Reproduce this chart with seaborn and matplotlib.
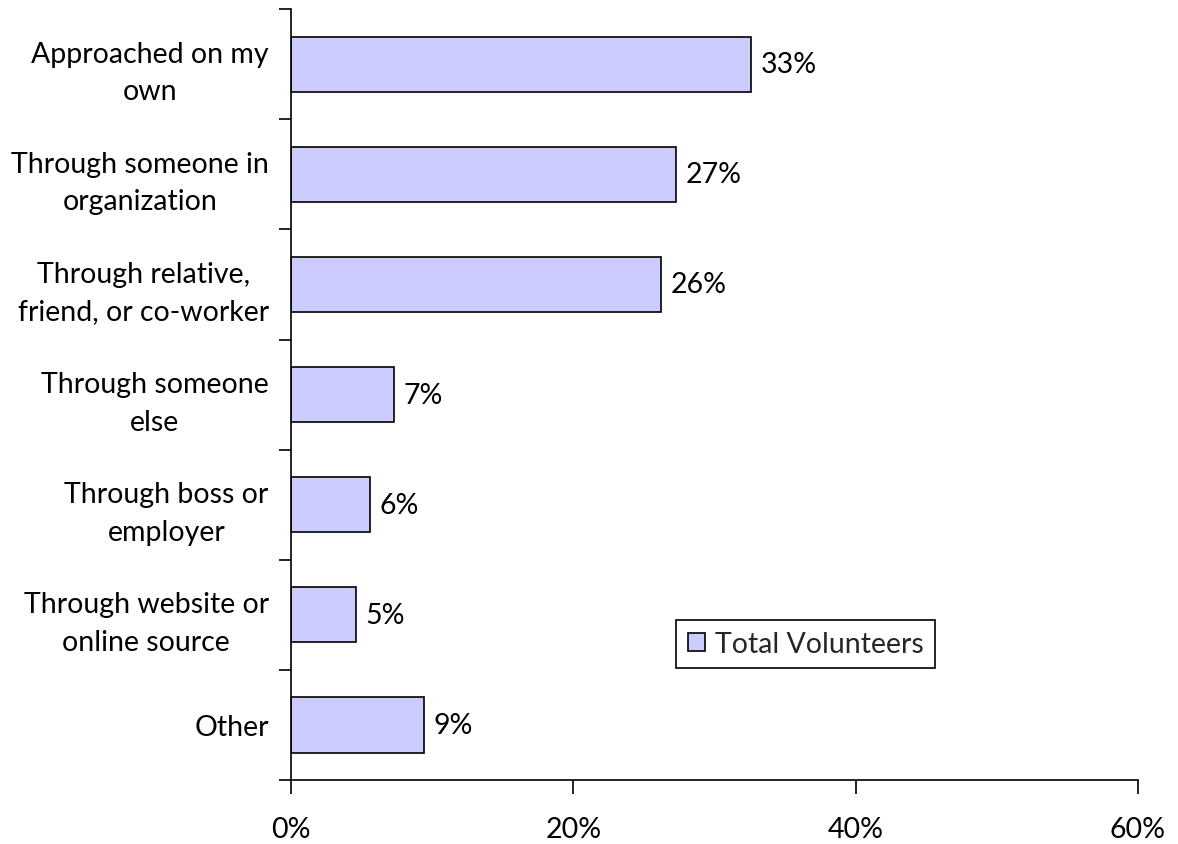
import matplotlib
matplotlib.use("Agg")
import matplotlib.pyplot as plt
from matplotlib.ticker import FixedLocator, FuncFormatter
import seaborn as sns
import pandas as pd

categories = [
    "Approached on my\nown",
    "Through someone in\norganization",
    "Through relative,\nfriend, or co-worker",
    "Through someone\nelse",
    "Through boss or\nemployer",
    "Through website or\nonline source",
    "Other",
]
values = [32.6, 27.3, 26.2, 7.3, 5.6, 4.6, 9.4]
series_name = "Total Volunteers"
x_ticks = [0, 20, 40, 60]

sns.set_theme(style="white")
plt.rcParams["font.family"] = ["Lato", "DejaVu Sans"]

FS = 20.5

df = pd.DataFrame({"category": categories, "value": values, "series": series_name})

fig = plt.figure(figsize=(11.78, 8.45), dpi=100)
ax = fig.add_axes([0.247, 0.0757, 0.719, 0.9123])

sns.barplot(data=df, x="value", y="category", hue="series", orient="h",
            palette=["#CCCCFF"], edgecolor="black", linewidth=1.2,
            width=0.5, saturation=1, ax=ax, legend=True)

for container in ax.containers:
    ax.bar_label(container, labels=[f"{v:.0f}%" for v in values],
                 padding=7, fontsize=FS, color="black")

ax.set_xlim(0, 60)
ax.set_xticks(x_ticks)
ax.xaxis.set_major_formatter(FuncFormatter(lambda v, p: f"{v:.0f}%"))
ax.set_xlabel("")
ax.set_ylabel("")

ax.set_ylim(len(categories) - 0.5, -0.5)
ax.yaxis.set_minor_locator(FixedLocator([i - 0.5 for i in range(len(categories) + 1)]))
ax.tick_params(axis="y", which="major", length=0, pad=16, labelsize=FS, colors="black")
ax.tick_params(axis="y", which="minor", left=True, length=9, width=1.2, color="black")
ax.tick_params(axis="x", which="major", bottom=True, length=10, width=1.2,
               pad=16, labelsize=FS, colors="black", direction="out")
for lbl in ax.get_yticklabels():
    lbl.set_multialignment("center")
    lbl.set_linespacing(1.55)

sns.despine(ax=ax, top=True, right=True)
for side in ("left", "bottom"):
    ax.spines[side].set_color("black")
    ax.spines[side].set_linewidth(1.2)

leg = ax.legend(loc="upper left", bbox_to_anchor=(0.455, 0.208), frameon=True,
                fancybox=False, edgecolor="black", framealpha=1, fontsize=FS,
                handlelength=0.6, handleheight=0.6, handletextpad=0.35,
                borderpad=0.4, borderaxespad=0)
leg.get_frame().set_linewidth(1.2)

fig.savefig("out.png", dpi=100, facecolor="white")
